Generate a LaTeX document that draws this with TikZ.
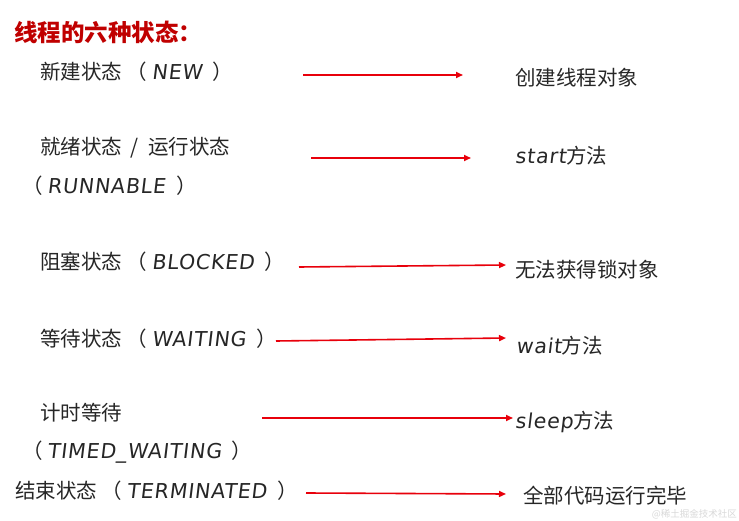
\documentclass[tikz,border=0pt]{standalone}
\usepackage{fontspec}
\setmainfont{Noto Sans CJK SC}
\newfontfamily\latf{DejaVu Sans}[FakeSlant=0.12,LetterSpace=4]
\usetikzlibrary{arrows.meta}
\definecolor{titlered}{HTML}{C00000}
\definecolor{txt}{HTML}{262626}
\definecolor{arr}{HTML}{E8000B}
\tikzset{
  lbl/.style={anchor=west,inner sep=0pt,text=txt,font=\fontsize{20.5}{23}\selectfont},
  res/.style={anchor=west,inner sep=0pt,text=txt,font=\fontsize{20.5}{23}\selectfont},
  redarrow/.style={draw=arr,line width=1.6pt,-{Triangle[length=7pt,width=6pt]}},
}
\newcommand{\lt}[1]{{\latf #1}\hspace{6pt}}
\begin{document}
\begin{tikzpicture}[x=1pt,y=-1pt]
\useasboundingbox[fill=white] (0,0) rectangle (739,521);
\node[anchor=west,inner sep=0pt,text=titlered,font=\fontsize{23.5}{26}\selectfont\bfseries] (title) at (14,32) {线程的六种状态：};
% left labels
\node[lbl] (l1) at (40,72) {新建状态 （ \lt{NEW} ）};
\node[lbl] (l2a) at (40,148) {就绪状态\hspace{8pt}/\hspace{10pt}运行状态};
\node[lbl] (l2b) at (22,186) {（ \lt{RUNNABLE} ）};
\node[lbl] (l3) at (40,262) {阻塞状态 （ \lt{BLOCKED} ）};
\node[lbl] (l4) at (40,339) {等待状态 （ \lt{WAITING} ）};
\node[lbl] (l5a) at (40,413) {计时等待};
\node[lbl] (l5b) at (22,452) {（ \lt{TIMED\_WAITING} ）};
\node[lbl] (l6) at (15,491) {结束状态 （ \lt{TERMINATED} ）};
% right labels
\node[res] (r1) at (515,78) {创建线程对象};
\node[res] (r2) at (515,156) {{\latf start}方法};
\node[res] (r3) at (515,270) {无法获得锁对象};
\node[res] (r4) at (516,346) {{\latf wait}方法};
\node[res] (r5) at (515,422) {{\latf sleep}方法};
\node[res] (r6) at (523,496) {全部代码运行完毕};
% arrow ends
\coordinate (s1) at (303,75);  \coordinate (e1) at (463,75);
\coordinate (s2) at (311,158); \coordinate (e2) at (471,158);
\coordinate (s3) at (299,267); \coordinate (e3) at (506,265);
\coordinate (s4) at (276,341); \coordinate (e4) at (506,338);
\coordinate (s5) at (262,418); \coordinate (e5) at (513,418);
\coordinate (s6) at (306,493); \coordinate (e6) at (506,494);
\foreach \i in {1,...,6} {\draw[redarrow] (s\i) -- (e\i);}
\node[anchor=east,inner sep=0pt,text=black!15,font=\fontsize{9.5}{11}\selectfont] (wm) at (737,514) {@稀土掘金技术社区};
\end{tikzpicture}
\end{document}
